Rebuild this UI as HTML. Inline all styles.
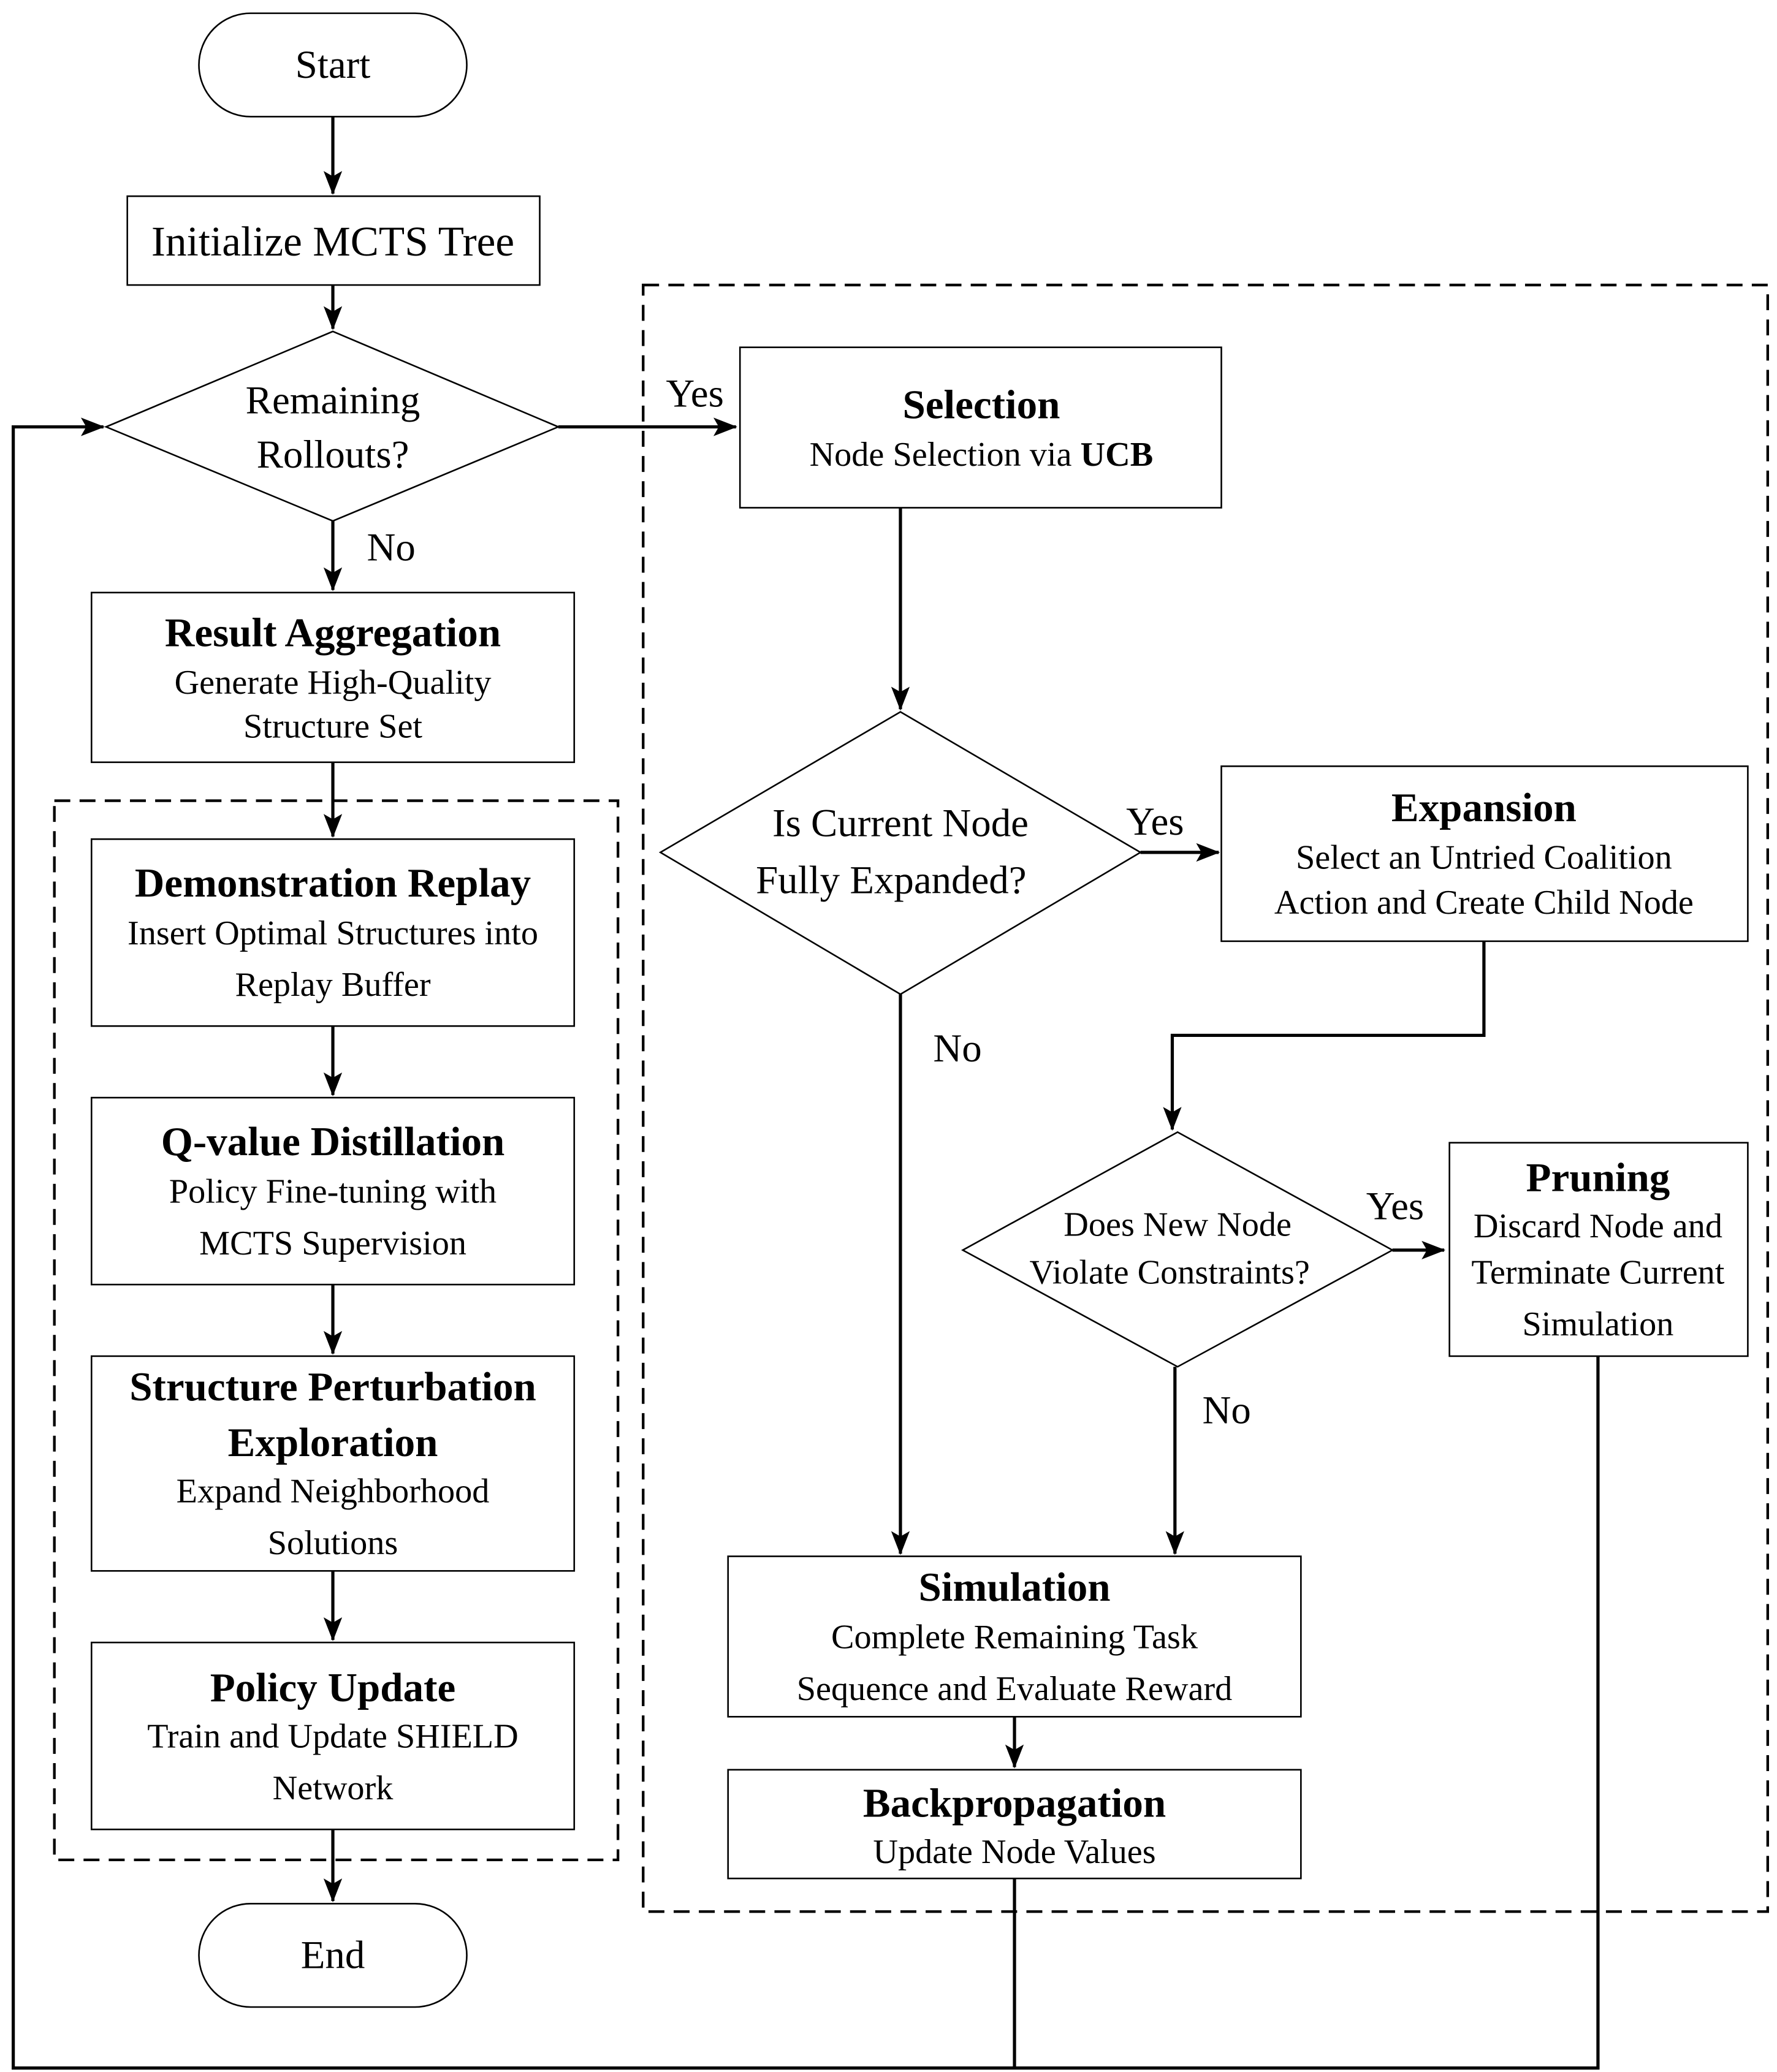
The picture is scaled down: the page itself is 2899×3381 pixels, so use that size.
<!DOCTYPE html>
<html><head><meta charset="utf-8"><style>
html,body{margin:0;padding:0;background:#fff;}
svg{display:block;}
text{font-family:"Liberation Serif",serif;fill:#000;text-anchor:middle;dominant-baseline:central;}
.t{font-weight:bold;font-size:31px;}
.s{font-size:26px;}
.b{fill:#fff;stroke:#000;stroke-width:1.2;}
.l{stroke:#000;stroke-width:2.4;fill:none;}
.d{stroke:#000;stroke-width:2;fill:none;stroke-dasharray:12,7;}
</style></head><body>
<svg width="2899" height="3381" viewBox="0 0 1340 1563" preserveAspectRatio="none" xmlns="http://www.w3.org/2000/svg">
<defs><marker id="a" markerWidth="10" markerHeight="10" refX="9" refY="5" orient="auto" markerUnits="userSpaceOnUse" viewBox="0 0 10 10"><path d="M0,0 L10,5 L0,10 z" fill="#000"/></marker>
<marker id="A" markerWidth="18" markerHeight="14" refX="17" refY="7" orient="auto" markerUnits="userSpaceOnUse" viewBox="0 0 18 14"><path d="M0,0 L18,7 L0,14 L4,7 z" fill="#000"/></marker></defs>
<rect x="0" y="0" width="1340" height="1563" fill="#fff"/>
<!-- dashed groups -->
<rect class="d" x="41" y="604" width="425" height="799"/>
<rect class="d" x="485" y="215" width="848" height="1227"/>
<!-- feedback loop -->
<path class="l" d="M765,1417 L765,1560 M1205,1023 L1205,1560 L10,1560 L10,322 L78,322" marker-end="url(#A)"/>
<!-- left column -->
<rect class="b" x="150" y="10" width="202" height="78" rx="39"/>
<text x="251" y="49" style="font-size:30px">Start</text>
<path class="l" d="M251,88 L251,146" marker-end="url(#A)"/>
<rect class="b" x="96" y="148" width="311" height="67"/>
<text x="251" y="182" style="font-size:32px">Initialize MCTS Tree</text>
<path class="l" d="M251,215 L251,248" marker-end="url(#A)"/>
<polygon class="b" points="251,250 421,322 251,393 80,322"/>
<text x="251" y="302" style="font-size:30px">Remaining</text>
<text x="251" y="343" style="font-size:30px">Rollouts?</text>
<path class="l" d="M421,322 L555,322" marker-end="url(#A)"/>
<text x="524" y="297" style="font-size:30px">Yes</text>
<path class="l" d="M251,393 L251,445" marker-end="url(#A)"/>
<text x="295" y="413" style="font-size:30px">No</text>
<rect class="b" x="69" y="447" width="364" height="128"/>
<text class="t" x="251" y="477">Result Aggregation</text>
<text class="s" x="251" y="515">Generate High-Quality</text>
<text class="s" x="251" y="548">Structure Set</text>
<path class="l" d="M251,575 L251,631" marker-end="url(#A)"/>
<rect class="b" x="69" y="633" width="364" height="141"/>
<text class="t" x="251" y="666">Demonstration Replay</text>
<text class="s" x="251" y="704">Insert Optimal Structures into</text>
<text class="s" x="251" y="743">Replay Buffer</text>
<path class="l" d="M251,774 L251,826" marker-end="url(#A)"/>
<rect class="b" x="69" y="828" width="364" height="141"/>
<text class="t" x="251" y="861">Q-value Distillation</text>
<text class="s" x="251" y="899">Policy Fine-tuning with</text>
<text class="s" x="251" y="938">MCTS Supervision</text>
<path class="l" d="M251,969 L251,1021" marker-end="url(#A)"/>
<rect class="b" x="69" y="1023" width="364" height="162"/>
<text class="t" x="251" y="1046">Structure Perturbation</text>
<text class="t" x="251" y="1088">Exploration</text>
<text class="s" x="251" y="1125">Expand Neighborhood</text>
<text class="s" x="251" y="1164">Solutions</text>
<path class="l" d="M251,1185 L251,1237" marker-end="url(#A)"/>
<rect class="b" x="69" y="1239" width="364" height="141"/>
<text class="t" x="251" y="1273">Policy Update</text>
<text class="s" x="251" y="1310">Train and Update SHIELD</text>
<text class="s" x="251" y="1349">Network</text>
<path class="l" d="M251,1380 L251,1434" marker-end="url(#A)"/>
<rect class="b" x="150" y="1436" width="202" height="78" rx="39"/>
<text x="251" y="1475" style="font-size:30px">End</text>
<!-- right -->
<rect class="b" x="558" y="262" width="363" height="121"/>
<text class="t" x="740" y="305">Selection</text>
<text class="s" x="740" y="343">Node Selection via <tspan font-weight="bold">UCB</tspan></text>
<path class="l" d="M679,383 L679,535" marker-end="url(#A)"/>
<polygon class="b" points="679,537 860,643 679,750 498,643"/>
<text x="679" y="621" style="font-size:30px">Is Current Node</text>
<text x="672" y="664" style="font-size:30px">Fully Expanded?</text>
<path class="l" d="M860,643 L919,643" marker-end="url(#A)"/>
<text x="871" y="620" style="font-size:30px">Yes</text>
<rect class="b" x="921" y="578" width="397" height="132"/>
<text class="t" x="1119" y="609">Expansion</text>
<text class="s" x="1119" y="647">Select an Untried Coalition</text>
<text class="s" x="1119" y="681">Action and Create Child Node</text>
<path class="l" d="M1119,710 L1119,781 L884,781 L884,852" marker-end="url(#A)"/>
<polygon class="b" points="888,854 1050,943 888,1031 726,943"/>
<text x="888" y="924" style="font-size:26px">Does New Node</text>
<text x="882" y="960" style="font-size:26px">Violate Constraints?</text>
<path class="l" d="M1050,943 L1089,943" marker-end="url(#A)"/>
<text x="1052" y="910" style="font-size:30px">Yes</text>
<rect class="b" x="1093" y="862" width="225" height="161"/>
<text class="t" x="1205" y="888">Pruning</text>
<text class="s" x="1205" y="925">Discard Node and</text>
<text class="s" x="1205" y="960">Terminate Current</text>
<text class="s" x="1205" y="999">Simulation</text>
<path class="l" d="M679,750 L679,1172" marker-end="url(#A)"/>
<text x="722" y="791" style="font-size:30px">No</text>
<path class="l" d="M886,1031 L886,1172" marker-end="url(#A)"/>
<text x="925" y="1064" style="font-size:30px">No</text>
<rect class="b" x="549" y="1174" width="432" height="121"/>
<text class="t" x="765" y="1197">Simulation</text>
<text class="s" x="765" y="1235">Complete Remaining Task</text>
<text class="s" x="765" y="1274">Sequence and Evaluate Reward</text>
<path class="l" d="M765,1295 L765,1333" marker-end="url(#A)"/>
<rect class="b" x="549" y="1335" width="432" height="82"/>
<text class="t" x="765" y="1360">Backpropagation</text>
<text class="s" x="765" y="1397">Update Node Values</text>
</svg>
</body></html>
